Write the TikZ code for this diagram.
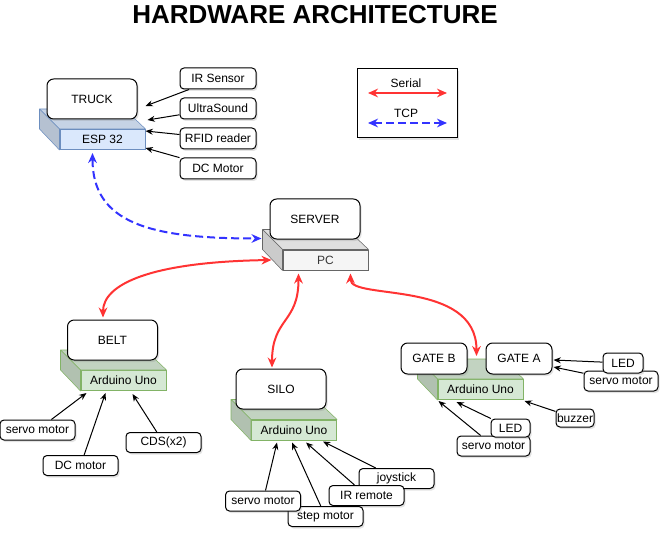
\documentclass[tikz,border=0pt]{standalone}
\usepackage{fontspec}
\setmainfont{Liberation Sans}
\usetikzlibrary{arrows.meta,calc,shadows}
\definecolor{serial}{HTML}{FF3333}
\definecolor{tcp}{HTML}{3333FF}
\definecolor{espfill}{HTML}{DAE8FC}
\definecolor{espline}{HTML}{6C8EBF}
\definecolor{pcfill}{HTML}{F5F5F5}
\definecolor{pcline}{HTML}{666666}
\definecolor{unofill}{HTML}{D5E8D4}
\definecolor{unoline}{HTML}{82B366}
\newcommand{\hwfaces}[2]{%
  \draw[#2line, fill=#2fill!91!black, line join=round] (#1.north west) -- ++(-20,-20) -- ++(85,0) -- (#1.north east) -- cycle;
  \draw[#2line, fill=#2fill!83!black, line join=round] (#1.north west) -- ++(-20,-20) -- ++(0,20) -- (#1.south west) -- cycle;}

\begin{document}
\begin{tikzpicture}[x=0.75pt, y=-0.75pt, font=\fontsize{9}{11}\selectfont,
  shade/.style={drop shadow={shadow xshift=1.2pt, shadow yshift=-1.5pt, opacity=0.22}},
  dev/.style={draw, line width=0.75pt, fill=white, rounded corners=5pt, minimum width=67.5pt, minimum height=30pt, inner sep=0pt, shade},
  part/.style={draw, line width=0.75pt, fill=white, rounded corners=3pt, minimum width=56.25pt, minimum height=15pt, inner sep=0pt, shade},
  front/.style={draw=#1line, line width=0.75pt, fill=#1fill, minimum width=63.75pt, minimum height=15pt, inner sep=0pt},
  wire/.style={line width=0.75pt, arrows={-Stealth[length=5.5pt,width=4.5pt]}},
  serialln/.style={serial, line width=1.5pt, arrows={Stealth[length=7.5pt,width=6.5pt]-Stealth[length=7.5pt,width=6.5pt]}},
  tcpln/.style={tcp, line width=1.5pt, dash pattern=on 6pt off 3pt, arrows={Stealth[length=7.5pt,width=6.5pt]-Stealth[length=7.5pt,width=6.5pt]}}]
\useasboundingbox (0,0) rectangle (670,538);
\node[font=\bfseries\fontsize{19.5}{22}\selectfont] (title) at (315,14.5) {HARDWARE ARCHITECTURE};

\node[draw, line width=0.75pt, fill=white, minimum width=75pt, minimum height=51.75pt, shade] (legend) at (407,103.5) {};
\node (sertxt) at (406,83) {Serial};
\node (tcptxt) at (406,113) {TCP};
\coordinate (serL) at (368,93);
\coordinate (serR) at (447,93);
\coordinate (tcpL) at (368,123);
\coordinate (tcpR) at (447,123);

\node[front=esp] (esp) at (102.5,139.5) {ESP 32};
\hwfaces{esp}{esp}
\node[dev] (truck) at (92,99) {TRUCK};
\node[part, minimum width=57pt, minimum height=15.75pt] (irs) at (218,78.5) {IR Sensor};
\node[part, minimum width=57pt, minimum height=15.75pt] (ultra) at (218,108.5) {UltraSound};
\node[part, minimum width=57pt, minimum height=15.75pt] (rfid) at (218,138.5) {RFID reader};
\node[part, minimum width=57pt, minimum height=15.75pt] (dcm) at (218,168.5) {DC Motor};

\node[front=pc, text=pcline!55!black] (pc) at (325.5,260) {PC};
\hwfaces{pc}{pc}
\node[dev] (server) at (315,219) {SERVER};

\node[front=uno] (buno) at (123.5,380.5) {Arduino Uno};
\hwfaces{buno}{uno}
\node[dev] (belt) at (112.5,340) {BELT};
\node[part] (bservo) at (37.5,430) {servo motor};
\node[part] (bdc) at (80.5,465.5) {DC motor};
\node[part] (cds) at (163.5,442.5) {CDS(x2)};

\node[front=uno] (suno) at (294,430) {Arduino Uno};
\hwfaces{suno}{uno}
\node[dev] (silo) at (281,389) {SILO};
\node[part] (sjoy) at (396.5,478.5) {joystick};
\node[part] (sir) at (366.5,495.5) {IR remote};
\node[part] (sstep) at (325.5,516.5) {step motor};
\node[part] (sservo) at (263,501) {servo motor};

\node[front=uno] (guno) at (480.5,389.5) {Arduino Uno};
\hwfaces{guno}{uno}
\node[dev, minimum width=49.5pt, minimum height=23.25pt] (gateb) at (434,358.5) {GATE B};
\node[dev, minimum width=49.5pt, minimum height=23.25pt] (gatea) at (519,358.5) {GATE A};
\node[part, minimum width=55.5pt] (gservo) at (621,381) {servo motor};
\node[part, minimum width=30pt] (gled) at (623,363) {LED};
\node[part, minimum width=28.5pt, minimum height=13.5pt] (buzz) at (575,418) {buzzer};
\node[part, minimum width=54.75pt] (gservob) at (493.5,446) {servo motor};
\node[part, minimum width=29.25pt, minimum height=13.5pt] (gledb) at (510.5,428) {LED};

\coordinate (irTip) at ($(esp.north east)+(0,-23)$);
\coordinate (usTip) at ($(esp.north east)+(2,-9)$);
\coordinate (rfTip) at ($(esp.north east)+(0,2)$);
\coordinate (dcTip) at ($(esp.south east)+(0,-2)$);
\draw[wire] (irs) -- (irTip);
\draw[wire] (ultra) -- (usTip);
\draw[wire] (rfid) -- (rfTip);
\draw[wire] (dcm) -- (dcTip);

\coordinate (bTip1) at ($(buno.south west)+(6,2)$);
\coordinate (bTip2) at ($(buno.south west)+(25,2)$);
\coordinate (bTip3) at ($(buno.south west)+(52,3)$);
\draw[wire] (bservo) -- (bTip1);
\draw[wire] (bdc) -- (bTip2);
\draw[wire] (cds) -- (bTip3);

\coordinate (sTip1) at ($(suno.south west)+(26,2)$);
\coordinate (sTip2) at ($(suno.south west)+(41,2)$);
\coordinate (sTip3) at ($(suno.south west)+(55,2)$);
\coordinate (sTip4) at ($(suno.south west)+(72,1)$);
\draw[wire] (sservo) -- (sTip1);
\draw[wire] (sstep) -- (sTip2);
\draw[wire] (sir) -- (sTip3);
\draw[wire] (sjoy) -- (sTip4);

\coordinate (gTip1) at ($(gatea.east)+(1,1.5)$);
\coordinate (gTip2) at ($(gatea.east)+(1,8.5)$);
\coordinate (gTip3) at ($(guno.south east)+(1,1)$);
\coordinate (gTip4) at ($(guno.south west)+(19,2)$);
\coordinate (gTip5) at ($(guno.south west)+(1,1)$);
\draw[wire] (gled) -- (gTip1);
\draw[wire] (gservo) -- (gTip2);
\draw[wire] (buzz) -- (gTip3);
\draw[wire] (gledb) -- (gTip4);
\draw[wire] (gservob) -- (gTip5);

\coordinate (espB) at ($(esp.south west)+(33,3)$);
\coordinate (pcL) at ($(pc.north west)+(-21,-11)$);
\coordinate (pcW) at ($(pc.west)+(-11,0)$);
\coordinate (pcS1) at ($(pc.south west)+(16,3)$);
\coordinate (pcS2) at ($(pc.south west)+(68,3)$);
\coordinate (beltN) at ($(belt.north)+(-9.5,-2)$);
\coordinate (siloN) at ($(silo.north)+(-9,-1)$);
\coordinate (gateN) at ($(guno.north west)+(39,-23)$);
\draw[tcpln] (espB) .. controls +(0,70) and +(-112,0) .. (pcL);
\draw[serialln] (pcW) .. controls +(-122,2) and +(0,-33) .. (beltN);
\draw[serialln] (pcS1) .. controls +(0,50) and +(0,-50) .. (siloN);
\draw[serialln] (pcS2) .. controls +(0,27) and +(0,-77) .. (gateN);

\draw[serialln] (serL) -- (serR);
\draw[tcpln] (tcpL) -- (tcpR);
\end{tikzpicture}
\end{document}
